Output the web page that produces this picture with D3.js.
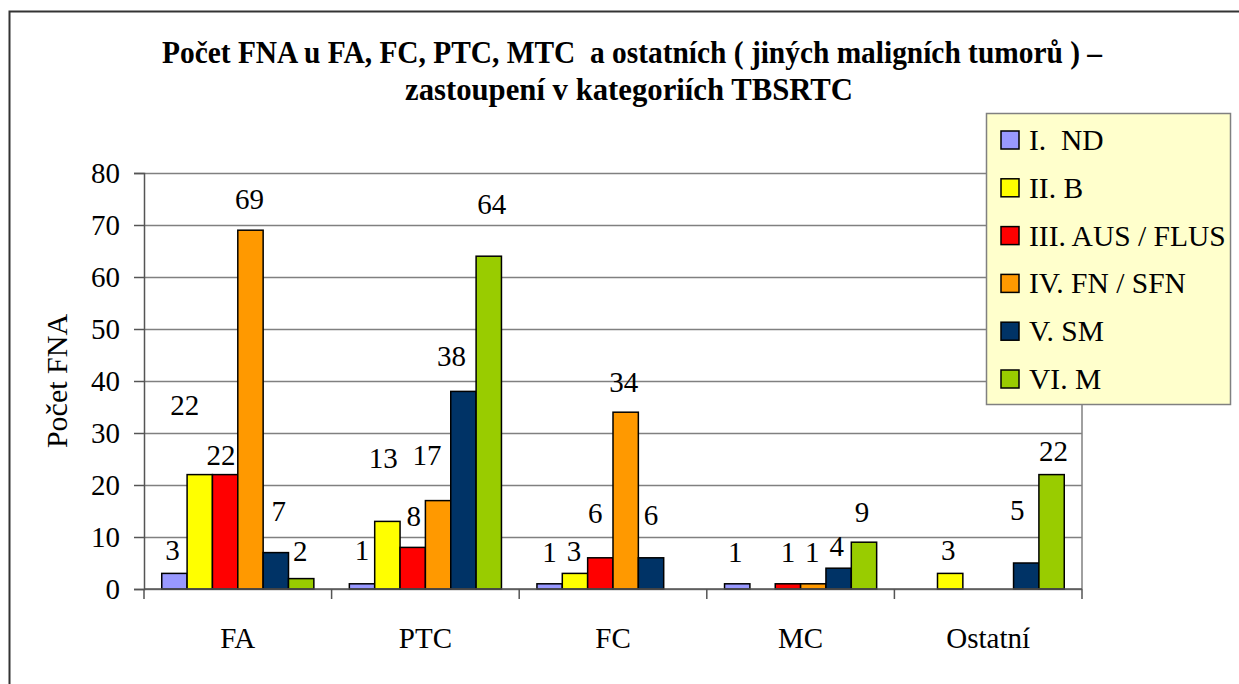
<!DOCTYPE html>
<html>
<head>
<meta charset="utf-8">
<script src="https://cdn.jsdelivr.net/npm/d3@7"></script>
<style>
  html, body { margin: 0; padding: 0; background: #fff; }
  svg { display: block; }
  svg text { font-family: "Liberation Serif", "Times New Roman", serif; }
</style>
</head>
<body>
<svg id="chart" width="1239" height="684"></svg>
<script>
const SERIF = "Liberation Serif, Times New Roman, serif";

// Diagnosis groups along the x axis
const categories = ["FA", "PTC", "FC", "MC", "Ostatní"];

// TBSRTC categories (one bar series each)
const seriesNames = ["I.  ND", "II. B", "III. AUS / FLUS", "IV. FN / SFN", "V. SM", "VI. M"];

// Number of FNA per diagnosis group; null = no bar
const ndValues  = [3, 1, 1, 1, null];
const bValues   = [22, 13, 3, null, 3];
const ausValues = [22, 8, 6, 1, null];
const fnValues  = [69, 17, 34, 1, null];
const smValues  = [7, 38, 6, 4, 5];
const mValues   = [2, 64, null, 9, 22];

const yTickValues = [0, 10, 20, 30, 40, 50, 60, 70, 80];

const titleLines = [
  "Počet FNA u FA, FC, PTC, MTC  a ostatních ( jiných maligních tumorů ) –",
  "zastoupení v kategoriích TBSRTC"
];
const yAxisTitle = "Počet FNA";

// Series fill colours
const seriesColors = ["#9999FF", "#FFFF00", "#FF0000", "#FF9900", "#003366", "#99CC00"];

// Hand-placed data label nudges [dx, dy] in px, per series then per group
const labelNudge = [
  [[-2, -3], [0, -14], [0, -12], [-2, -12], null],
  [[-15, -50], [-4, -43], [-1, -2], null, [-2, -3]],
  [[-4, 0], [1, -11], [-5, -25], [0, -12], null],
  [[-1, -11], [-11, -26], [-2, -10], [-1, -12], null],
  [[3, -22], [-12, -15], [0, -23], [-2, -2], [-9, -33]],
  [[-1, -8], [3, -32], null, [-2, -10], [2, -4]]
];

const seriesValues = [ndValues, bValues, ausValues, fnValues, smValues, mValues];
const series = seriesNames.map((name, i) => ({
  name, color: seriesColors[i], values: seriesValues[i], nudge: labelNudge[i], index: i
}));

const svg = d3.select("#chart");

// Outer chart frame
svg.append("rect")
  .attr("x", 9.5).attr("y", 11.5)
  .attr("width", 1260).attr("height", 720)
  .attr("fill", "#fff").attr("stroke", "#333").attr("stroke-width", 2);

// Plot area
const plot = { left: 144, right: 1082, top: 173, bottom: 589 };

const x0 = d3.scaleBand().domain(categories).range([plot.left, plot.right]).padding(0);
const x1 = d3.scaleBand().domain(seriesNames).range([0, x0.bandwidth()])
  .paddingInner(0).paddingOuter(0.7);
const y = d3.scaleLinear().domain([0, 80]).range([plot.bottom, plot.top]);

// Horizontal gridlines
const grid = svg.append("g")
  .attr("transform", `translate(${plot.left},0)`)
  .call(d3.axisLeft(y).tickValues(yTickValues).tickSize(-(plot.right - plot.left)).tickFormat(""));
grid.select(".domain").remove();
grid.selectAll(".tick line").attr("stroke", "#808080").attr("stroke-width", 1.5);

// Right border of plot area
svg.append("line")
  .attr("x1", plot.right).attr("x2", plot.right)
  .attr("y1", plot.top).attr("y2", plot.bottom)
  .attr("stroke", "#808080").attr("stroke-width", 1.5);

// Bars
const groups = svg.append("g").selectAll("g.series")
  .data(series).join("g").attr("class", "series");

groups.selectAll("rect")
  .data(s => s.values.map((v, ci) => ({ v, ci, s })).filter(d => d.v != null))
  .join("rect")
  .attr("x", d => x0(categories[d.ci]) + x1(d.s.name))
  .attr("y", d => y(d.v))
  .attr("width", x1.bandwidth())
  .attr("height", d => y(0) - y(d.v))
  .attr("fill", d => d.s.color)
  .attr("stroke", "#000")
  .attr("stroke-width", 1.5);

// Y axis
const yAxis = svg.append("g")
  .attr("transform", `translate(${plot.left},0)`)
  .call(d3.axisLeft(y).tickValues(yTickValues).tickSize(10).tickPadding(14));
yAxis.attr("font-family", SERIF);
yAxis.select(".domain").attr("stroke", "#555").attr("stroke-width", 1.5);
yAxis.selectAll(".tick line").attr("stroke", "#555").attr("stroke-width", 1.5);
yAxis.selectAll(".tick text")
  .attr("font-family", SERIF)
  .attr("font-size", 29).attr("fill", "#000").attr("dy", "0.34em");

// X axis with ticks at group boundaries
const boundaries = categories.map(c => x0(c)).concat([plot.right]);
const xAxisG = svg.append("g");
xAxisG.append("line")
  .attr("x1", plot.left).attr("x2", plot.right)
  .attr("y1", plot.bottom).attr("y2", plot.bottom)
  .attr("stroke", "#555").attr("stroke-width", 1.5);
xAxisG.selectAll("line.tk").data(boundaries).join("line").attr("class", "tk")
  .attr("x1", d => d).attr("x2", d => d)
  .attr("y1", plot.bottom).attr("y2", plot.bottom + 10)
  .attr("stroke", "#555").attr("stroke-width", 1.5);
xAxisG.selectAll("text").data(categories).join("text")
  .attr("x", d => x0(d) + x0.bandwidth() / 2)
  .attr("y", 648)
  .attr("text-anchor", "middle")
  .attr("font-family", SERIF)
  .attr("font-size", 29)
  .text(d => d);

// Data labels
groups.selectAll("text.lbl")
  .data(s => s.values.map((v, ci) => ({ v, ci, s })).filter(d => d.v != null))
  .join("text").attr("class", "lbl")
  .attr("x", d => x0(categories[d.ci]) + x1(d.s.name) + x1.bandwidth() / 2 + d.s.nudge[d.ci][0])
  .attr("y", d => y(d.v) - 10 + d.s.nudge[d.ci][1])
  .attr("text-anchor", "middle")
  .attr("font-family", SERIF)
  .attr("font-size", 29)
  .text(d => d.v);

// Y axis title
svg.append("text")
  .attr("transform", "translate(67,381) rotate(-90)")
  .attr("text-anchor", "middle")
  .attr("font-family", SERIF)
  .attr("font-size", 30)
  .text(yAxisTitle);

// Chart title
const titleG = svg.append("g")
  .attr("font-family", SERIF).attr("font-weight", "bold").attr("font-size", 32);
titleG.append("text")
  .attr("x", 632).attr("y", 63)
  .attr("text-anchor", "middle")
  .attr("textLength", 940).attr("lengthAdjust", "spacingAndGlyphs")
  .style("white-space", "pre")
  .text(titleLines[0]);
titleG.append("text")
  .attr("x", 629).attr("y", 100)
  .attr("text-anchor", "middle")
  .attr("textLength", 448).attr("lengthAdjust", "spacingAndGlyphs")
  .text(titleLines[1]);

// Legend
const legend = svg.append("g");
legend.append("rect")
  .attr("x", 986.5).attr("y", 113.5)
  .attr("width", 244).attr("height", 291)
  .attr("fill", "#FFFFCC").attr("stroke", "#808080").attr("stroke-width", 1.5);
const legendItems = legend.selectAll("g.item").data(series).join("g").attr("class", "item")
  .attr("transform", (d, i) => `translate(1001, ${140 + i * 47.8})`);
legendItems.append("rect")
  .attr("x", 0).attr("y", -9).attr("width", 18).attr("height", 18)
  .attr("fill", d => d.color).attr("stroke", "#000").attr("stroke-width", 1.5);
legendItems.append("text")
  .attr("x", 28).attr("y", 10)
  .attr("font-family", SERIF)
  .attr("font-size", 29.5)
  .style("white-space", "pre")
  .text(d => d.name);
</script>
</body>
</html>
